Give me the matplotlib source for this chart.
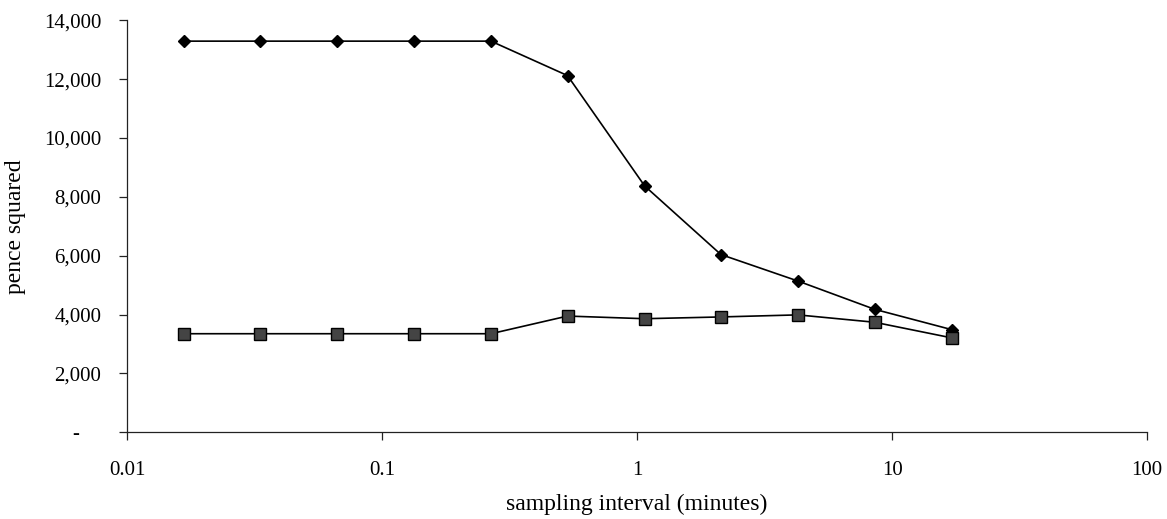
import numpy as np
import matplotlib
matplotlib.use('Agg')
import matplotlib.pyplot as plt
from matplotlib.ticker import FixedLocator, FuncFormatter, NullLocator

# intervalo de amostragem (minutos)
intervalo = [0.0167, 0.0333, 0.0667, 0.133, 0.267, 0.533, 1.07, 2.13, 4.27, 8.53, 17.1]

# serie com losangos (cai com o intervalo)
serie_losango = [13290, 13290, 13290, 13290, 13290, 12120, 8370, 6040, 5140, 4180, 3490]

# serie com quadrados (quase constante)
serie_quadrado = [3350, 3350, 3350, 3350, 3350, 3950, 3860, 3920, 3990, 3740, 3210]

x_ticks = [0.01, 0.1, 1, 10, 100]
y_ticks = [0, 2000, 4000, 6000, 8000, 10000, 12000, 14000]

plt.rcParams['font.family'] = ['Liberation Serif', 'DejaVu Serif']

fig = plt.figure(figsize=(11.67, 5.19), dpi=100)
ax = fig.add_axes([0.109, 0.167, 0.874, 0.794])

ax.plot(intervalo, serie_losango, color='black', linewidth=1.2,
        marker='D', markersize=6.5, markerfacecolor='black', markeredgecolor='black')
ax.plot(intervalo, serie_quadrado, color='black', linewidth=1.2,
        marker='s', markersize=8.7, markerfacecolor='#444444', markeredgecolor='black',
        markeredgewidth=1.0)

ax.set_xscale('log')
ax.set_xlim(0.01, 100)
ax.set_ylim(0, 14000)

ax.xaxis.set_major_locator(FixedLocator(x_ticks))
ax.xaxis.set_minor_locator(NullLocator())
ax.xaxis.set_major_formatter(FuncFormatter(lambda v, p: '%g' % v))

# zero aparece como "-" (formato contabil)
ax.yaxis.set_major_locator(FixedLocator(y_ticks))
ax.yaxis.set_major_formatter(FuncFormatter(lambda v, p: '-    ' if v == 0 else '{:,.0f}'.format(v)))

ax.spines['top'].set_visible(False)
ax.spines['right'].set_visible(False)
for s in ['left', 'bottom']:
    ax.spines[s].set_linewidth(0.9)
    ax.spines[s].set_color('#222222')

ax.tick_params(axis='both', direction='out', length=5.7, width=0.9, colors='#222222',
               labelcolor='black', labelsize=15)
ax.tick_params(axis='x', pad=15)
ax.tick_params(axis='y', pad=13)

ax.set_xlabel('sampling interval (minutes)', fontsize=17, va='top')
ax.xaxis.set_label_coords(0.5, -0.148)
ax.set_ylabel('pence squared', fontsize=17)
ax.yaxis.set_label_coords(-0.099, 0.5)

fig.savefig('out.png', dpi=100)
